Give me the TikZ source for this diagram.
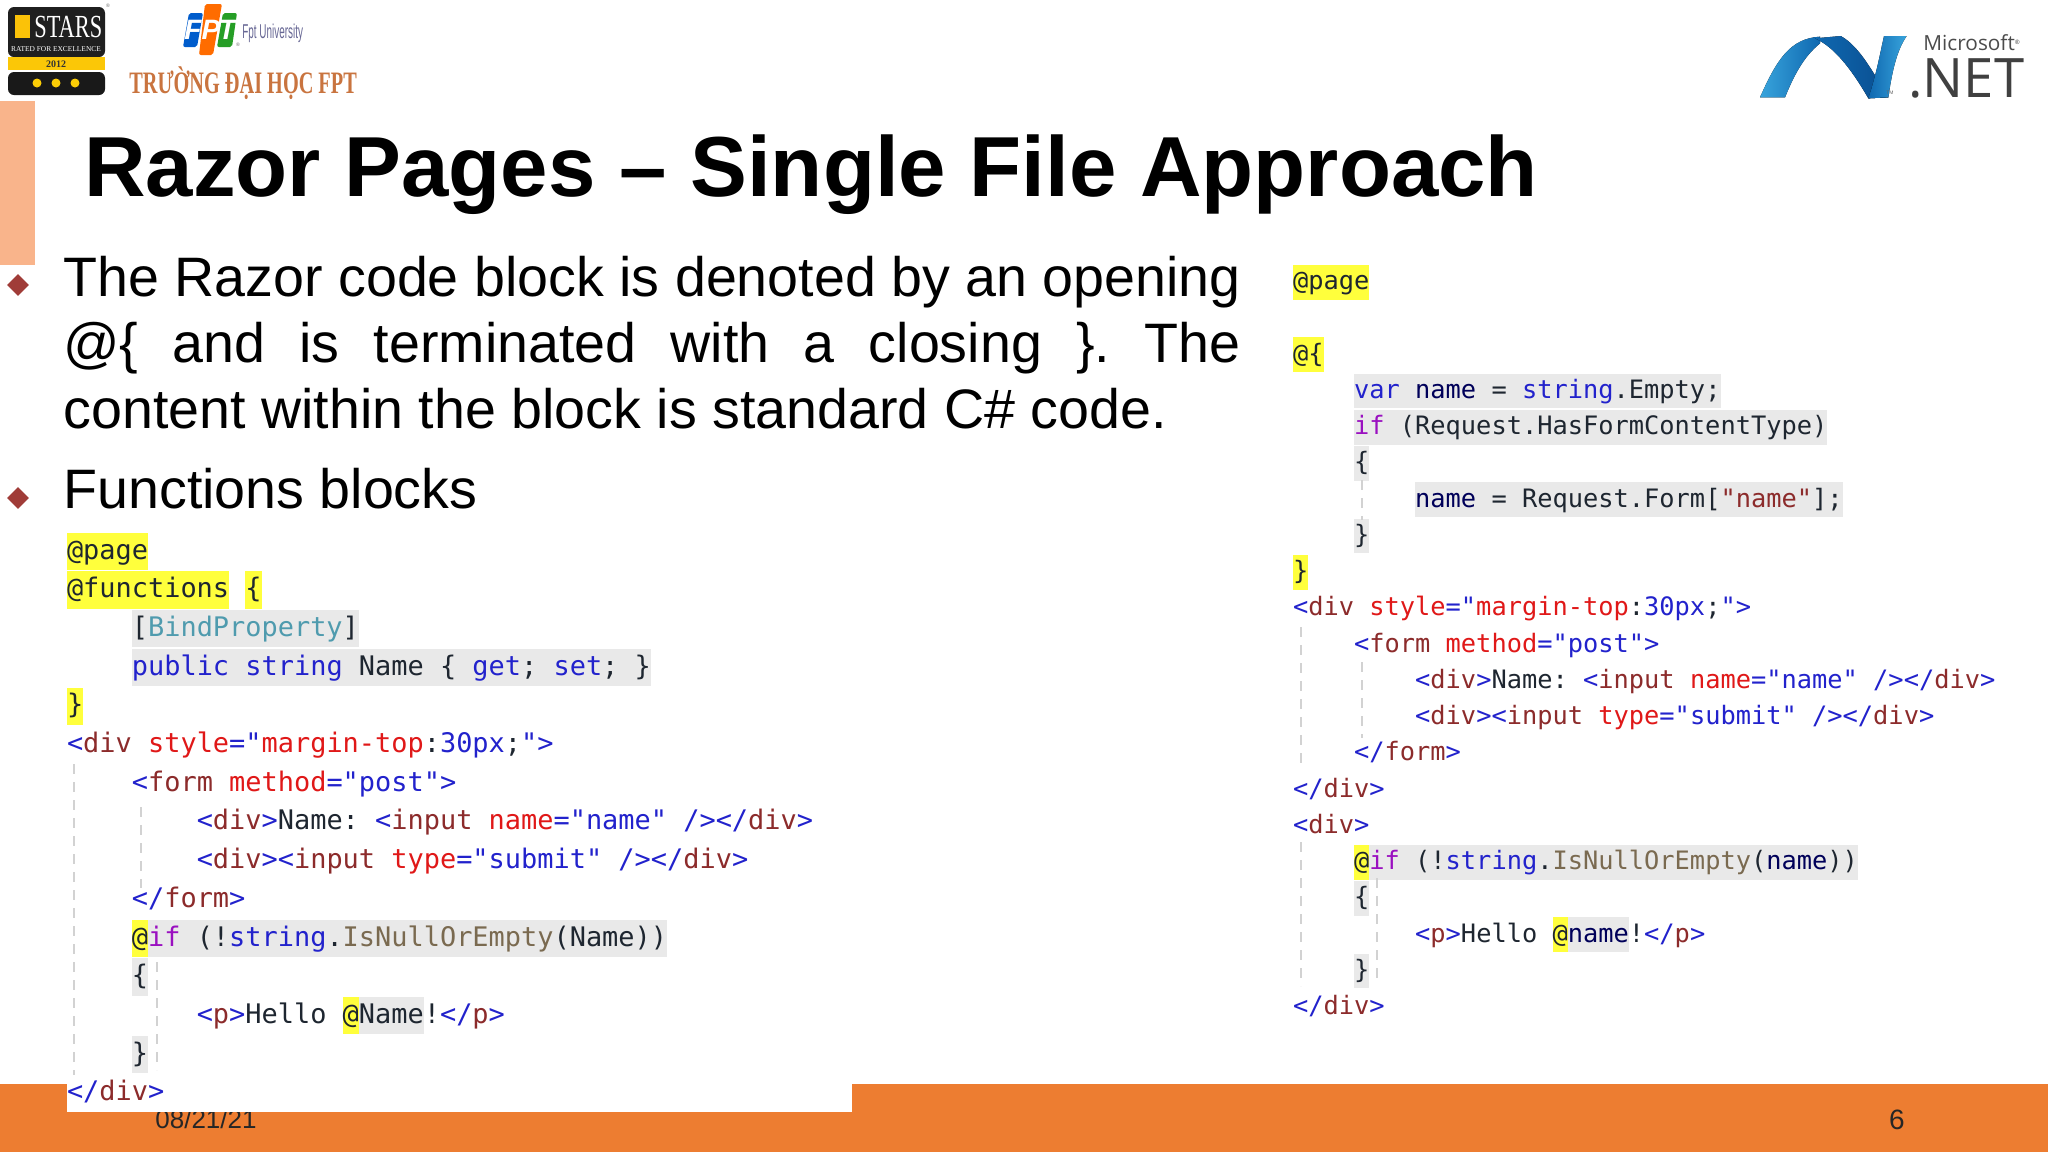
\documentclass[tikz,border=0pt]{standalone}
\usepackage{fontspec}
\usepackage{graphicx}
\setmainfont{Liberation Sans}
\setmonofont{DejaVu Sans Mono}
\newfontfamily\logoserif{Liberation Serif}
\newfontfamily\netfont{Open Sans}
\usetikzlibrary{shapes.geometric}
\definecolor{bandorange}{HTML}{ED7D31}
\definecolor{tabsalmon}{HTML}{F9B48B}
\definecolor{bulletred}{HTML}{A03C38}
\definecolor{hlyellow}{HTML}{FFFF3C}
\definecolor{hlgray}{HTML}{E9E9E9}
\definecolor{codeblue}{HTML}{2222CC}
\definecolor{codemaroon}{HTML}{8C2B2B}
\definecolor{codered}{HTML}{E01818}
\definecolor{codeteal}{HTML}{4F9BAE}
\definecolor{codetan}{HTML}{7A6A50}
\definecolor{codeink}{HTML}{1E2630}
\definecolor{codepurple}{HTML}{9A10C0}
\definecolor{netlight}{HTML}{38A4DC}
\definecolor{netblue}{HTML}{0F68B0}
\definecolor{netdark}{HTML}{0A4E90}
\definecolor{logotext}{HTML}{C9743F}
\newcommand\cB[1]{\textcolor{codeblue}{#1}}
\newcommand\cN[1]{\textcolor{codemaroon}{#1}}
\newcommand\cR[1]{\textcolor{codered}{#1}}
\newcommand\cT[1]{\textcolor{codeteal}{#1}}
\newcommand\cG[1]{\textcolor{codetan}{#1}}
\newcommand\cP[1]{\textcolor{codepurple}{#1}}
% one line of code: name, column, line, text
\newcommand\codeline[4]{%
\node[codetext] (#1) at ({\codeX+#2*\codeW},{\codeY+#3*\codeH}) {#4};
}
% highlight behind code: colour, column, line, characters
\newcommand\markcode[4][hlgray]{%
\fill[#1] ({\codeX+#2*\codeW},{\codeY+#3*\codeH-0.68*\codeH}) rectangle ({\codeX+(#2+#4)*\codeW},{\codeY+#3*\codeH+0.28*\codeH});
}
\tikzset{%
  codetext/.style={anchor=base west,inner sep=0pt,outer sep=0pt,text=codeink,font=\codeFont},
  bodytext/.style={anchor=base west,inner sep=0pt,font=\fontsize{27.8}{33.4}\selectfont},
  bulletmark/.style={diamond,fill=bulletred,inner sep=0pt,minimum size=11pt},
  guideline/.style={gray!35,line width=0.7pt,dashed,dash pattern=on 5pt off 4pt},
  logoletter/.style={inner sep=0pt,text=white,font=\bfseries\itshape\fontsize{14}{14}\selectfont},
  tinymark/.style={inner sep=0pt,text=black!60,font=\fontsize{2.5}{3}\selectfont}
}
\begin{document}
\begin{tikzpicture}[x=0.5pt,y=-0.5pt]
	\useasboundingbox (0,0) rectangle (2048,1152);
	\fill[white] (0,0) rectangle (2048,1152);

	%% footer band, the code picture lies over it
	\fill[bandorange] (0,1084) rectangle (2048,1152);
	\node[inner sep=0pt,font=\fontsize{13}{13}\selectfont,text=black!85] (date) at (206,1119) {08/21/21};
	\node[inner sep=0pt,font=\fontsize{14}{14}\selectfont,text=black!85] (pagenum) at (1897,1120) {6};
	\fill[white] (67,1084) rectangle (852,1112);

	%% side tab and title
	\fill[tabsalmon] (0,101) rectangle (35,265);
	\node[anchor=base west,inner sep=0pt,font=\bfseries\fontsize{42.6}{50}\selectfont] (title) at (84,196) {Razor Pages – Single File Approach};

	%% stars logo
	\fill[black!88,rounded corners=3pt] (8,7) rectangle (105,57);
	\fill[black!90,rounded corners=3pt] (8,72) rectangle (105,95);
	\fill[yellow!60!orange] (8,57) rectangle (105,70);
	\fill[yellow!55!orange] (15,15) rectangle (30,38);
	\node[anchor=base west,inner sep=0pt,text=white,font=\logoserif\fontsize{14}{14}\selectfont] (stars) at (34,37) {\scalebox{.8}[1.15]{STARS}};
	\node[anchor=base,inner sep=0pt,text=white!85,font=\logoserif\fontsize{3.7}{4}\selectfont] (rated) at (56,51) {RATED FOR EXCELLENCE};
	\node[anchor=base,inner sep=0pt,text=black!80,font=\logoserif\bfseries\fontsize{5}{5}\selectfont] (year) at (56,67) {2012};
	\node[tinymark] (starsreg) at (108,6) {®};
	\foreach \dx in {37,56,75}
		\fill[yellow!65!orange] (\dx,83) circle (4.5);

	%% fpt logo
	\fill[blue!55!cyan!80!black,rounded corners=1pt] (189,13) -- (203,13) -- (197,47) -- (183,47) -- cycle;
	\fill[orange!85!red,rounded corners=1pt] (205,4) -- (222,4) -- (213,55) -- (199,55) -- cycle;
	\fill[green!55!black!85,rounded corners=1pt] (223,13) -- (237,13) -- (232,47) -- (217,47) -- cycle;
	\node[logoletter] (fptf) at (193,30) {F};
	\node[logoletter] (fptp) at (211,30) {P};
	\node[logoletter] (fptt) at (227,30) {T};
	\node[tinymark] (fptreg) at (238,45) {®};
	\node[anchor=base west,inner sep=0pt,text=blue!30!black!60,font=\fontsize{8}{8}\selectfont] (fptuni) at (242,38) {\scalebox{.62}[1.25]{Fpt University}};
	\node[anchor=base west,inner sep=0pt,text=logotext,font=\logoserif\bfseries\fontsize{13}{13}\selectfont] (fptname) at (129,93) {\scalebox{.78}[1.2]{TRƯỜNG ĐẠI HỌC FPT}};

	%% dotnet logo, ribbon then text
	\begin{scope}[shift={(1740,10)},x=0.16667pt,y=-0.16667pt]
		\fill[left color=netlight,right color=netblue] (60,262) .. controls (110,150) and (150,85) .. (240,80) -- (240,100) .. controls (190,140) and (160,200) .. (135,262) -- cycle;
		\fill[left color=netblue,right color=netdark] (225,85) -- (302,78) .. controls (360,110) and (400,190) .. (445,262) -- (385,265) .. controls (330,170) and (280,110) .. (225,85) -- cycle;
		\fill[left color=netblue,right color=netlight] (385,265) -- (445,262) .. controls (455,190) and (470,120) .. (500,78) -- (432,78) .. controls (420,130) and (410,190) .. (385,265) -- cycle;
	\end{scope}
	\node[tinymark] (nettm) at (1890,93) {TM};
	\node[anchor=base west,inner sep=0pt,text=black!70,font=\netfont\fontsize{10.4}{10}\selectfont] (microsoft) at (1923,50) {Microsoft\raisebox{3pt}{\fontsize{3}{3}\selectfont ®}};
	\node[anchor=base west,inner sep=0pt,text=black!75,font=\netfont\fontsize{27.2}{28}\selectfont] (netname) at (1908,97) {.NET};

	%% text with bullets
	\node[bulletmark] (bulletone) at (18,285) {};
	\node[bulletmark] (bullettwo) at (18,498) {};
	\node[bodytext] (lineone) at (63,296) {The Razor code block is denoted by an opening};
	\node[bodytext] (linetwo) at (63,362) {\hbox to 588.5pt{@\{\hfil and\hfil is\hfil terminated\hfil with\hfil a\hfil closing\hfil \}.\hfil The}};
	\node[bodytext] (linethree) at (63,428) {content within the block is standard C\# code.};
	\node[bodytext] (functions) at (63,508) {Functions blocks};

	%% code block on the left
	\def\codeX{67} % left edge
	\def\codeY{559} % first baseline
	\def\codeW{16.22} % character width
	\def\codeH{38.7} % line distance
	\def\codeFont{\ttfamily\fontsize{13.47}{15}\selectfont}

	\markcode[hlyellow]{0}{0}{5}
	\markcode[hlyellow]{0}{1}{10}
	\markcode[hlyellow]{11}{1}{1}
	\markcode{4}{2}{14}
	\markcode{4}{3}{32}
	\markcode[hlyellow]{0}{4}{1}
	\markcode[hlyellow]{4}{10}{1}
	\markcode{5}{10}{32}
	\markcode{4}{11}{1}
	\markcode[hlyellow]{17}{12}{1}
	\markcode{18}{12}{4}
	\markcode{4}{13}{1}

	\draw[guideline] (74,764) -- (74,1075);
	\draw[guideline] (141,807) -- (141,888);
	\draw[guideline] (157,962) -- (157,1070);

	\codeline{lpage}{0}{0}{@page}
	\codeline{lfunc}{0}{1}{@functions \{}
	\codeline{lbind}{4}{2}{[\cT{BindProperty}]}
	\codeline{lprop}{4}{3}{\cB{public} \cB{string} Name \{ \cB{get}; \cB{set}; \}}
	\codeline{lclose}{0}{4}{\}}
	\codeline{ldiv}{0}{5}{\cB{<}\cN{div} \cR{style}\cB{="}\cR{margin-top}:\cB{30px};\cB{">}}
	\codeline{lform}{4}{6}{\cB{<}\cN{form} \cR{method}\cB{="post">}}
	\codeline{lname}{8}{7}{\cB{<}\cN{div}\cB{>}Name: \cB{<}\cN{input} \cR{name}\cB{="name" />}\cB{</}\cN{div}\cB{>}}
	\codeline{lsubmit}{8}{8}{\cB{<}\cN{div}\cB{><}\cN{input} \cR{type}\cB{="submit" />}\cB{</}\cN{div}\cB{>}}
	\codeline{lformend}{4}{9}{\cB{</}\cN{form}\cB{>}}
	\codeline{lif}{4}{10}{@\cP{if} (!\cB{string}.\cG{IsNullOrEmpty}(Name))}
	\codeline{lopen}{4}{11}{\{}
	\codeline{lhello}{8}{12}{\cB{<}\cN{p}\cB{>}Hello @Name!\cB{</}\cN{p}\cB{>}}
	\codeline{lshut}{4}{13}{\}}
	\codeline{ldivend}{0}{14}{\cB{</}\cN{div}\cB{>}}

	%% code block on the right
	\def\codeX{1293} % left edge
	\def\codeY{289.5} % first baseline
	\def\codeW{15.27} % character width
	\def\codeH{36.25} % line distance
	\def\codeFont{\ttfamily\fontsize{12.68}{14}\selectfont}

	\markcode[hlyellow]{0}{0}{5}
	\markcode[hlyellow]{0}{2}{2}
	\markcode{4}{3}{24}
	\markcode{4}{4}{31}
	\markcode{4}{5}{1}
	\markcode{8}{6}{28}
	\markcode{4}{7}{1}
	\markcode[hlyellow]{0}{8}{1}
	\markcode[hlyellow]{4}{16}{1}
	\markcode{5}{16}{32}
	\markcode{4}{17}{1}
	\markcode[hlyellow]{17}{18}{1}
	\markcode{18}{18}{4}
	\markcode{4}{19}{1}

	\draw[guideline] (1362,480) -- (1362,520);
	\draw[guideline] (1301,627) -- (1301,770);
	\draw[guideline] (1362,662) -- (1362,738);
	\draw[guideline] (1301,842) -- (1301,986);
	\draw[guideline] (1377,878) -- (1377,982);

	\codeline{rpage}{0}{0}{@page}
	\codeline{rblock}{0}{2}{@\{}
	\codeline{rvar}{4}{3}{\cB{var} \textcolor{blue!35!black}{name} = \cB{string}.Empty;}
	\codeline{rif}{4}{4}{\cP{if} (Request.HasFormContentType)}
	\codeline{ropen}{4}{5}{\{}
	\codeline{rassign}{8}{6}{\textcolor{blue!35!black}{name} = Request.Form[\textcolor{codemaroon}{"name"}];}
	\codeline{rshut}{4}{7}{\}}
	\codeline{rclose}{0}{8}{\}}
	\codeline{rdiv}{0}{9}{\cB{<}\cN{div} \cR{style}\cB{="}\cR{margin-top}:\cB{30px};\cB{">}}
	\codeline{rform}{4}{10}{\cB{<}\cN{form} \cR{method}\cB{="post">}}
	\codeline{rname}{8}{11}{\cB{<}\cN{div}\cB{>}Name: \cB{<}\cN{input} \cR{name}\cB{="name" />}\cB{</}\cN{div}\cB{>}}
	\codeline{rsubmit}{8}{12}{\cB{<}\cN{div}\cB{><}\cN{input} \cR{type}\cB{="submit" />}\cB{</}\cN{div}\cB{>}}
	\codeline{rformend}{4}{13}{\cB{</}\cN{form}\cB{>}}
	\codeline{rdivend}{0}{14}{\cB{</}\cN{div}\cB{>}}
	\codeline{rdivtwo}{0}{15}{\cB{<}\cN{div}\cB{>}}
	\codeline{rtest}{4}{16}{@\cP{if} (!\cB{string}.\cG{IsNullOrEmpty}(\textcolor{blue!35!black}{name}))}
	\codeline{ropentwo}{4}{17}{\{}
	\codeline{rhello}{8}{18}{\cB{<}\cN{p}\cB{>}Hello @\textcolor{blue!35!black}{name}!\cB{</}\cN{p}\cB{>}}
	\codeline{rshuttwo}{4}{19}{\}}
	\codeline{rdivlast}{0}{20}{\cB{</}\cN{div}\cB{>}}
\end{tikzpicture}
\end{document}
